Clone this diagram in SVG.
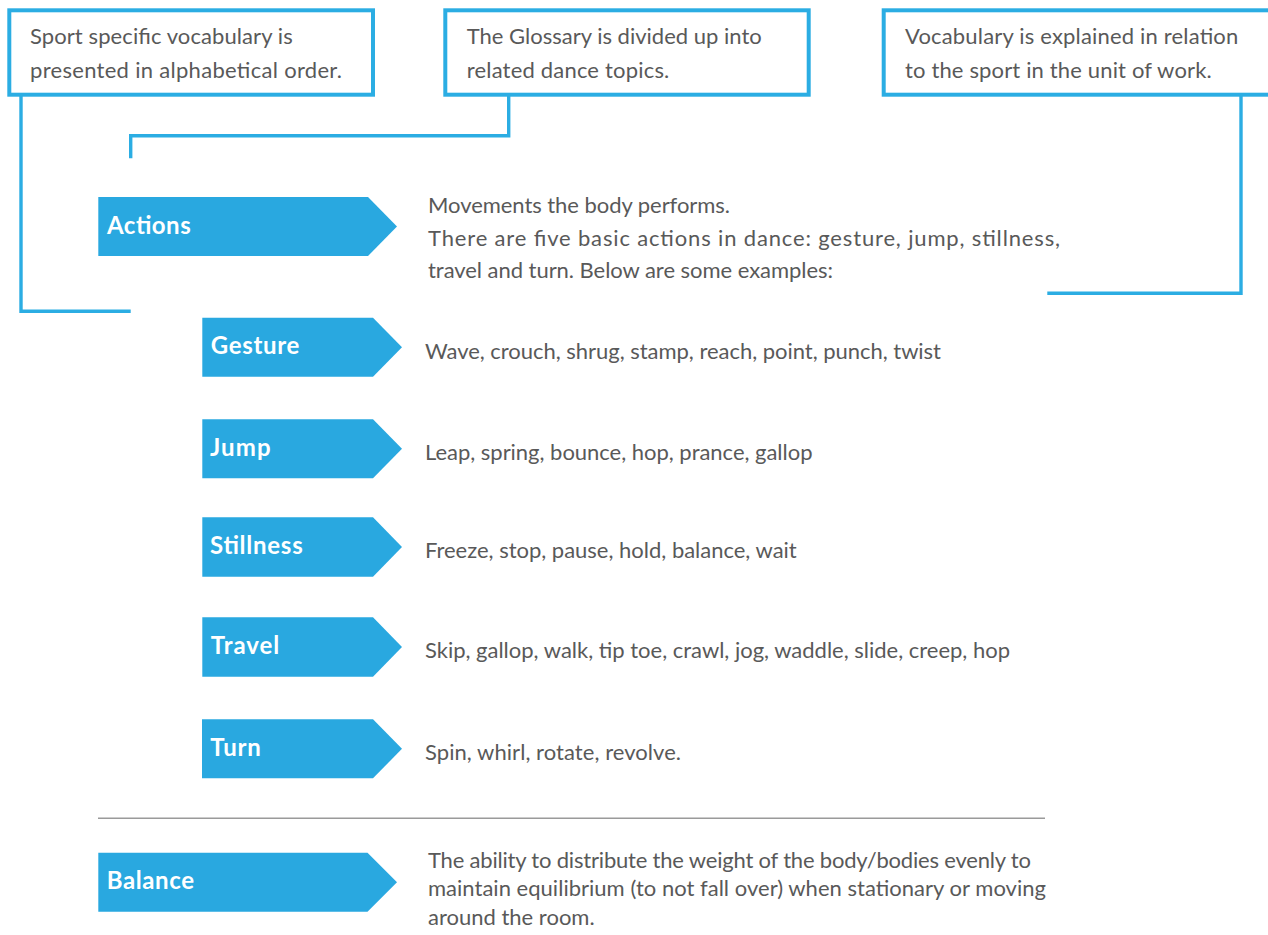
<svg xmlns="http://www.w3.org/2000/svg" width="1268" height="935" viewBox="0 0 1268 935">
  <style>
    .box { fill: #ffffff; stroke: #2BADE3; stroke-width: 4; }
    .conn { fill: none; stroke: #2BADE3; stroke-width: 3.4; stroke-linecap: butt; stroke-linejoin: miter; }
    .tag { fill: #29A8E0; }
    .lbl { font-family: Lato, "Open Sans", sans-serif; font-weight: 700; font-size: 24px; fill: #ffffff; }
    .txt { font-family: Lato, "Open Sans", sans-serif; font-size: 22px; fill: #595959; }
    .sep { stroke: #9a9a9a; stroke-width: 1.5; }
  </style>
  <rect width="1268" height="935" fill="#ffffff"/>

  <g id="connectors">
    <polyline class="conn" points="21,96 21,311.3 130.7,311.3"/>
    <polyline class="conn" points="508.7,96 508.7,135.7 130.7,135.7 130.7,158.3"/>
    <polyline class="conn" points="1241,96 1241,293.3 1047.3,293.3"/>
  </g>

  <g id="note-alphabetical">
    <rect class="box" x="9.3" y="10.3" width="363.7" height="84.4"/>
    <text class="txt" x="30" y="44.3" textLength="262.7">Sport specific vocabulary is</text>
    <text class="txt" x="30" y="77.7" textLength="312">presented in alphabetical order.</text>
  </g>

  <g id="note-topics">
    <rect class="box" x="445.3" y="10.3" width="363.4" height="84.4"/>
    <text class="txt" x="466.7" y="44.3" textLength="295">The Glossary is divided up into</text>
    <text class="txt" x="466.7" y="77.7" textLength="202.6">related dance topics.</text>
  </g>

  <g id="note-explained">
    <rect class="box" x="883.7" y="10.3" width="420" height="84.4"/>
    <text class="txt" x="905" y="44.3" textLength="333.3">Vocabulary is explained in relation</text>
    <text class="txt" x="905" y="77.7" textLength="306.7">to the sport in the unit of work.</text>
  </g>

  <g id="actions">
    <polygon class="tag" points="98.3,197 368,197 397,226.5 368,256 98.3,256"/>
    <text class="lbl" x="107" y="233.5" textLength="83.7">Actions</text>
    <text class="txt" x="428" y="212.5" textLength="302">Movements the body performs.</text>
    <text class="txt" x="428" y="245.5" textLength="632">There are five basic actions in dance: gesture, jump, stillness,</text>
    <text class="txt" x="428" y="278.3" textLength="405">travel and turn. Below are some examples:</text>
  </g>

  <g id="gesture">
    <polygon class="tag" points="202.3,317.7 373,317.7 402,347.2 373,376.7 202.3,376.7"/>
    <text class="lbl" x="210.7" y="354" textLength="88.6">Gesture</text>
    <text class="txt" x="425" y="358.5" textLength="516">Wave, crouch, shrug, stamp, reach, point, punch, twist</text>
  </g>

  <g id="jump">
    <polygon class="tag" points="202.3,419.3 373,419.3 402,448.8 373,478.3 202.3,478.3"/>
    <text class="lbl" x="210" y="455.8" textLength="60.7">Jump</text>
    <text class="txt" x="425" y="460" textLength="387.5">Leap, spring, bounce, hop, prance, gallop</text>
  </g>

  <g id="stillness">
    <polygon class="tag" points="202.3,517.3 373,517.3 402,547 373,576.7 202.3,576.7"/>
    <text class="lbl" x="210" y="554" textLength="92.7">Stillness</text>
    <text class="txt" x="425" y="558" textLength="371.7">Freeze, stop, pause, hold, balance, wait</text>
  </g>

  <g id="travel">
    <polygon class="tag" points="202.3,617.3 373,617.3 402,647 373,676.7 202.3,676.7"/>
    <text class="lbl" x="210.7" y="654" textLength="68.6">Travel</text>
    <text class="txt" x="425" y="658" textLength="585">Skip, gallop, walk, tip toe, crawl, jog, waddle, slide, creep, hop</text>
  </g>

  <g id="turn">
    <polygon class="tag" points="202,719.3 373,719.3 402,748.8 373,778.3 202,778.3"/>
    <text class="lbl" x="210.3" y="755.8" textLength="50.4">Turn</text>
    <text class="txt" x="425" y="760" textLength="256">Spin, whirl, rotate, revolve.</text>
  </g>

  <line class="sep" x1="98" y1="818.3" x2="1045" y2="818.3"/>

  <g id="balance">
    <polygon class="tag" points="98.3,852.7 367.5,852.7 397,882.2 367.5,911.7 98.3,911.7"/>
    <text class="lbl" x="106.7" y="889" textLength="87.3">Balance</text>
    <text class="txt" x="428" y="867.5" textLength="603">The ability to distribute the weight of the body/bodies evenly to</text>
    <text class="txt" x="428" y="896" textLength="618">maintain equilibrium (to not fall over) when stationary or moving</text>
    <text class="txt" x="428" y="924.5">around the room.</text>
  </g>
</svg>
